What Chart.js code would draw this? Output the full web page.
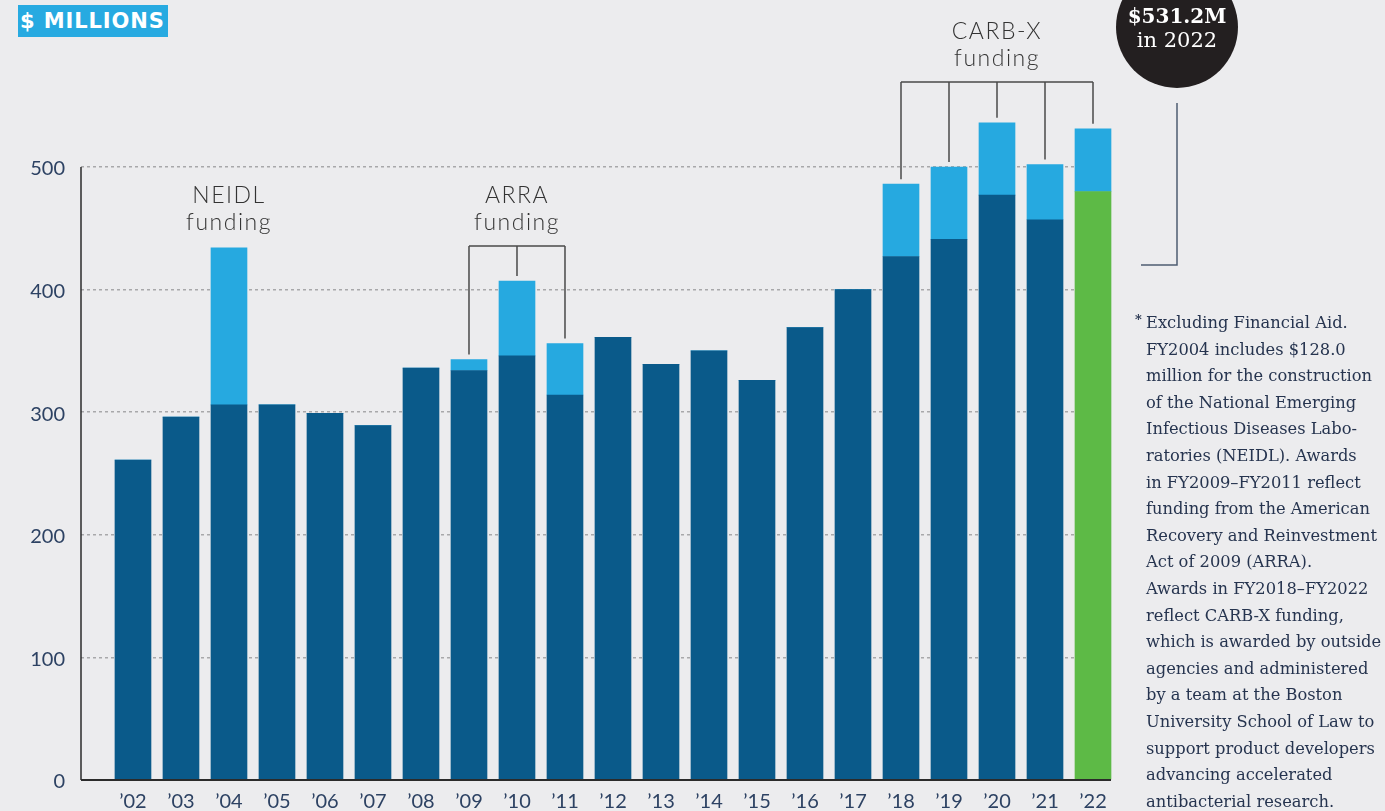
<!DOCTYPE html>
<html>
<head>
<meta charset="utf-8">
<title>Research awards, $ millions</title>
<script src="https://cdn.jsdelivr.net/npm/chart.js@4.4.1/dist/chart.umd.min.js"></script>
<style>
  html, body { margin: 0; padding: 0; background: #ececee; overflow: hidden; }
  #wrap { position: relative; width: 1385px; height: 811px; }
  #awards { position: absolute; left: 0; top: 0; }
  .unit-tag {
    position: absolute; left: 18px; top: 5px; width: 150px; height: 32px;
    background: #27aae1; color: #fff; white-space: nowrap; overflow: hidden;
    font: bold 21px "DejaVu Sans", sans-serif; line-height: 33px;
    padding-left: 2px; box-sizing: border-box; letter-spacing: 0.9px;
  }
  .footnote {
    position: absolute; left: 1146px; top: 310px; width: 240px;
    font: 16.3px "DejaVu Serif", serif; line-height: 26.6px; color: #26344f;
    white-space: nowrap;
  }
  .footnote .star { position: absolute; left: -11px; top: -3px; font-size: 13px; font-weight: bold; }
</style>
</head>
<body>
<div id="wrap">
  <canvas id="awards" width="1385" height="811"></canvas>
  <div class="unit-tag">$ MILLIONS</div>
  <div class="footnote"><span class="star">*</span>Excluding Financial Aid.<br>FY2004 includes $128.0<br>million for the construction<br>of the National Emerging<br>Infectious Diseases Labo-<br>ratories (NEIDL). Awards<br>in FY2009–FY2011 reflect<br>funding from the American<br>Recovery and Reinvestment<br>Act of 2009 (ARRA).<br>Awards in FY2018–FY2022<br>reflect CARB-X funding,<br>which is awarded by outside<br>agencies and administered<br>by a team at the Boston<br>University School of Law to<br>support product developers<br>advancing accelerated<br>antibacterial research.</div>
</div>
<script>
// Fiscal years and award totals ($ millions)
const years = ['’02', '’03', '’04', '’05', '’06', '’07', '’08', '’09', '’10', '’11',
               '’12', '’13', '’14', '’15', '’16', '’17', '’18', '’19', '’20', '’21', '’22'];
const coreAwards = [261, 296, 306, 306, 299, 289, 336, 334, 346, 314,
                    361, 339, 350, 326, 369, 400, 427, 441, 477, 457, 480];
// NEIDL construction, ARRA and CARB-X funding stacked on top
const specialAwards = [0, 0, 128.0, 0, 0, 0, 0, 9, 61, 42,
                       0, 0, 0, 0, 0, 0, 59, 59, 59, 45, 51.2];
const yTicks = [0, 100, 200, 300, 400, 500];

const callouts = [
    { lines: ['NEIDL', 'funding'], bars: [2], bracketY: 246 },
    { lines: ['ARRA', 'funding'], bars: [7, 8, 9], bracketY: 246 },
    { lines: ['CARB-X', 'funding'], bars: [16, 17, 18, 19, 20], bracketY: 82 }
];

const DARK_BLUE = '#0a5a8a';
const LIGHT_BLUE = '#26a9e0';
const GREEN = '#5dba46';
const lastIdx = years.length - 1;

// axis lines, funding brackets and the 2022 total bubble
const annotations = {
    id: 'annotations',
    afterDatasetsDraw(chart) {
        const { ctx, chartArea, scales: { x, y } } = chart;
        ctx.save();

        // axes
        ctx.strokeStyle = '#2b2b2b';
        ctx.lineWidth = 1.5;
        ctx.beginPath();
        ctx.moveTo(chartArea.left, y.getPixelForValue(yTicks[yTicks.length - 1]));
        ctx.lineTo(chartArea.left, chartArea.bottom);
        ctx.stroke();
        ctx.lineWidth = 2;
        ctx.beginPath();
        ctx.moveTo(chartArea.left, chartArea.bottom);
        ctx.lineTo(chartArea.right, chartArea.bottom);
        ctx.stroke();

        // funding callouts
        ctx.strokeStyle = '#4a4a4a';
        ctx.lineWidth = 1.5;
        ctx.font = '300 23px Lato';
        ctx.letterSpacing = '1.5px';
        ctx.fillStyle = '#333333';
        ctx.textAlign = 'center';
        ctx.textBaseline = 'middle';
        callouts.forEach(c => {
            const xs = c.bars.map(i => x.getPixelForValue(i));
            const cx = (xs[0] + xs[xs.length - 1]) / 2;
            ctx.fillText(c.lines[0], cx, c.bracketY - 50);
            ctx.fillText(c.lines[1], cx, c.bracketY - 23);
            if (xs.length > 1) {
                ctx.beginPath();
                ctx.moveTo(xs[0], c.bracketY);
                ctx.lineTo(xs[xs.length - 1], c.bracketY);
                c.bars.forEach((i, k) => {
                    const top = y.getPixelForValue(coreAwards[i] + specialAwards[i]);
                    ctx.moveTo(xs[k], c.bracketY);
                    ctx.lineTo(xs[k], top - 5);
                });
                ctx.stroke();
            }
        });
        ctx.letterSpacing = '0px';

        // 2022 total bubble with pointer
        const total = coreAwards[lastIdx] + specialAwards[lastIdx];
        const bx = chartArea.right + 66, by = 27, r = 61;
        ctx.fillStyle = '#231f20';
        ctx.beginPath();
        ctx.arc(bx, by, r, 0, Math.PI * 2);
        ctx.fill();
        ctx.fillStyle = '#ffffff';
        ctx.font = 'bold 20px "DejaVu Serif"';
        ctx.fillText('$' + total.toFixed(1) + 'M', bx, by - 9);
        ctx.font = '21px "DejaVu Serif"';
        ctx.fillText('in 2022', bx, by + 15);

        ctx.strokeStyle = '#4d5c72';
        ctx.lineWidth = 1.5;
        ctx.beginPath();
        ctx.moveTo(bx, by + r + 15);
        ctx.lineTo(bx, 265);
        ctx.lineTo(bx - 36, 265);
        ctx.stroke();

        ctx.restore();
    }
};

const chart = new Chart(document.getElementById('awards'), {
    type: 'bar',
    data: {
        datasets: [{
            label: 'Awards',
            data: years.map((_, i) => ({ x: i, y: coreAwards[i] })),
            backgroundColor: years.map((_, i) => i === lastIdx ? GREEN : DARK_BLUE),
            barThickness: 36,
            clip: false
        }, {
            label: 'Special funding',
            data: years.map((_, i) => ({ x: i, y: specialAwards[i] })),
            backgroundColor: LIGHT_BLUE,
            barThickness: 36,
            clip: false
        }]
    },
    options: {
        responsive: false,
        animation: false,
        events: [],
        layout: { padding: { top: 167, right: 274, left: 0, bottom: 0 } },
        plugins: { legend: { display: false }, tooltip: { enabled: false } },
        scales: {
            x: {
                type: 'linear',
                stacked: true,
                min: -1.083,
                max: 20.375,
                offset: false,
                grid: { display: false },
                border: { display: false },
                afterBuildTicks: s => { s.ticks = years.map((_, i) => ({ value: i })); },
                afterFit: s => { s.height = 31; },
                ticks: {
                    autoSkip: false,
                    maxRotation: 0,
                    padding: 2,
                    color: '#2d4263',
                    font: { family: 'Lato', size: 20 },
                    callback: v => years[v]
                }
            },
            y: {
                stacked: true,
                min: 0,
                max: 500,
                afterBuildTicks: s => { s.ticks = yTicks.map(v => ({ value: v })); },
                afterFit: s => { s.width = 81; },
                grid: {
                    drawTicks: false,
                    color: c => c.tick.value === 0 ? 'transparent' : '#a8a8aa',
                    lineWidth: 1.5
                },
                border: { display: false, dash: [3, 3] },
                ticks: {
                    padding: 16,
                    labelOffset: 2,
                    color: '#2d4263',
                    font: { family: 'Lato', size: 20 }
                }
            }
        }
    },
    plugins: [annotations]
});
</script>
</body>
</html>
